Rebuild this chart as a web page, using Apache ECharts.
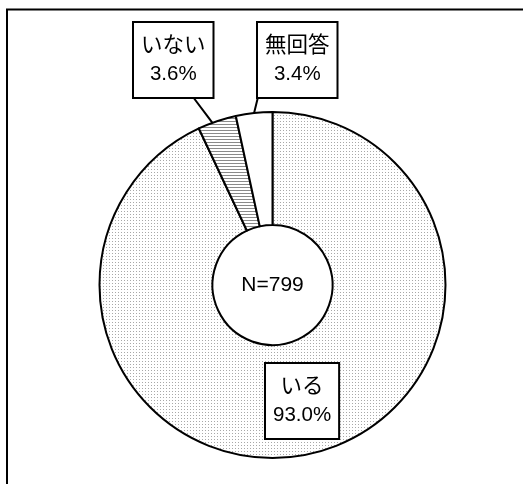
<!DOCTYPE html>
<html>
<head>
<meta charset="utf-8">
<script src="https://cdn.jsdelivr.net/npm/echarts@6/dist/echarts.min.js"></script>
<style>
  html, body { margin: 0; padding: 0; background: #fff; }
  #chart { width: 523px; height: 484px; }
</style>
</head>
<body>
<div id="chart"></div>
<script>
// Answer categories and their shares (%)
const categories = ['いる', 'いない', '無回答'];
const percents = [93.0, 3.6, 3.4];
const sampleSize = 799;

// Small tiled canvases used as fill patterns
function makePattern(draw) {
  const c = document.createElement('canvas');
  c.width = 3; c.height = 3;
  const ctx = c.getContext('2d');
  ctx.fillStyle = '#fff';
  ctx.fillRect(0, 0, 3, 3);
  draw(ctx);
  return { image: c, repeat: 'repeat' };
}
const dotFill = makePattern(ctx => { ctx.fillStyle = '#a8a8a8'; ctx.fillRect(1, 1, 1, 1); });
const hatchFill = makePattern(ctx => { ctx.fillStyle = '#8a8a8a'; ctx.fillRect(0, 1, 3, 1); });
const fills = [dotFill, hatchFill, '#ffffff'];

// Donut geometry
const cx = 272.5, cy = 285, rIn = 60, rOut = 173;
const FONT = '"Liberation Sans", Arial, "Noto Sans CJK JP", sans-serif';

// Label box placement (top-left corner); leader lines run from the box to a
// point inside the slice (tipFrac = position across the slice's sweep)
const labelBoxes = [
  { x: 266, y: 364, line: false },
  { x: 134, y: 23, line: true, attach: [193, 97], tipFrac: 0.5 },
  { x: 258, y: 23, line: true, attach: [258, 97], tipFrac: 0.34 }
];

// Start/end angles of each slice (clockwise from 12 o'clock), from the data
const total = percents.reduce((a, b) => a + b, 0);
let acc = 0;
const sweeps = percents.map(p => {
  const s = acc / total * 2 * Math.PI;
  acc += p;
  return [s, acc / total * 2 * Math.PI];
});

const chart = echarts.init(document.getElementById('chart'), null, { renderer: 'canvas' });
chart.setOption({
  animation: false,
  backgroundColor: '#fff',
  graphic: [
    {
      type: 'rect',
      shape: { x: 7, y: 9.5, width: 600, height: 600 },
      style: { fill: 'none', stroke: '#000', lineWidth: 2 },
      silent: true
    },
    {
      type: 'text',
      x: cx, y: cy,
      style: {
        text: 'N=' + sampleSize,
        font: '21px ' + FONT,
        fill: '#000',
        align: 'center',
        verticalAlign: 'middle'
      },
      z: 10
    }
  ],
  series: [{
    type: 'pie',
    center: [cx, cy],
    radius: [rIn, rOut],
    startAngle: 90,
    clockwise: true,
    silent: true,
    avoidLabelOverlap: false,
    itemStyle: { borderColor: '#000', borderWidth: 2 },
    emphasis: { disabled: true },
    label: {
      show: true,
      position: 'outside',
      formatter: p => '{n|' + p.name + '}\n{v|' + p.value.toFixed(1) + '%}',
      fontSize: 18,
      fontFamily: FONT,
      lineHeight: 28,
      color: '#000',
      backgroundColor: '#fff',
      borderColor: '#000',
      borderWidth: 2,
      padding: [9, 7, 9, 7],
      rich: {
        n: { fontSize: 21.5, lineHeight: 28, fontFamily: FONT, color: '#000', align: 'center' },
        v: { fontSize: 20.5, lineHeight: 28, fontFamily: FONT, color: '#000', align: 'center' }
      }
    },
    labelLine: { show: true, lineStyle: { color: '#000', width: 2 } },
    labelLayout: function (params) {
      const box = labelBoxes[params.dataIndex];
      const out = { x: box.x, y: box.y, align: 'left', verticalAlign: 'top' };
      if (box.line) {
        const [s, e] = sweeps[params.dataIndex];
        const a = s + (e - s) * box.tipFrac;
        const r = 158;
        const ax = cx + r * Math.sin(a), ay = cy - r * Math.cos(a);
        const [bx, by] = box.attach;
        out.labelLinePoints = [[bx, by], [(ax + bx) / 2, (ay + by) / 2], [ax, ay]];
      }
      return out;
    },
    data: categories.map((name, i) => ({
      name: name,
      value: percents[i],
      itemStyle: { color: fills[i] },
      labelLine: { show: labelBoxes[i].line }
    }))
  }]
});
</script>
</body>
</html>
